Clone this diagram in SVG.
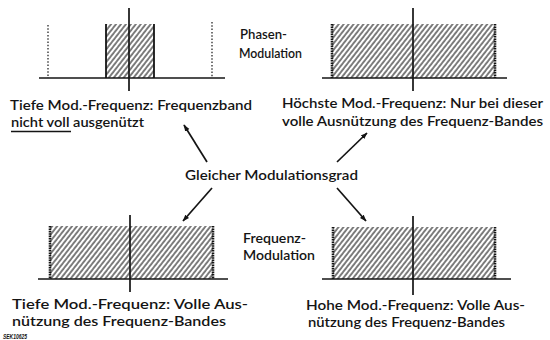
<svg xmlns="http://www.w3.org/2000/svg" width="550" height="340" viewBox="0 0 550 340">
  <style>
    .txt { font-family: Lato, "Liberation Sans", Arial, sans-serif; font-size: 14px; font-weight: 600; fill: #141414; }
    .axis { stroke: #141414; stroke-width: 1.7; fill: none; }
    .edge { stroke: #141414; stroke-width: 2.6; stroke-dasharray: 1.6 0.8; fill: none; }
    .solid-edge { stroke: #141414; stroke-width: 1.8; fill: none; }
    .dots { stroke: #141414; stroke-width: 1.2; stroke-dasharray: 1.5 1.8; fill: none; }
    .band { fill: url(#hatch); }
    .arrow { stroke: #141414; stroke-width: 1.7; fill: none; marker-end: url(#head); }
  </style>
  <defs>
    <pattern id="hatch" patternUnits="userSpaceOnUse" width="3.9" height="10" patternTransform="rotate(38)">
      <line x1="1" y1="-1" x2="1" y2="11" stroke="#141414" stroke-width="1.1"/>
    </pattern>
    <marker id="head" viewBox="0 0 10 10" refX="9" refY="5" markerWidth="7" markerHeight="7" markerUnits="userSpaceOnUse" orient="auto">
      <path d="M0,1.5 L10,5 L0,8.5 Z" fill="#141414"/>
    </marker>
  </defs>
  <rect width="550" height="340" fill="#ffffff"/>

  <!-- Phase modulation, low modulation frequency -->
  <g id="pm-low">
    <rect class="band" x="106" y="24" width="48" height="54"/>
    <line class="solid-edge" x1="106" y1="24" x2="106" y2="78"/>
    <line class="solid-edge" x1="154" y1="24" x2="154" y2="78"/>
    <line class="dots" x1="48" y1="25" x2="48" y2="78"/>
    <line class="dots" x1="212" y1="22" x2="212" y2="78"/>
    <line class="axis" x1="39" y1="78" x2="225" y2="78"/>
    <line class="axis" x1="129" y1="8" x2="129" y2="91"/>
    <text class="txt" x="10" y="110" textLength="242" lengthAdjust="spacingAndGlyphs">Tiefe Mod.-Frequenz: Frequenzband</text>
    <text class="txt" x="11" y="127" textLength="133" lengthAdjust="spacingAndGlyphs">nicht voll ausgenützt</text>
    <line x1="11" y1="131.5" x2="71" y2="131.5" stroke="#141414" stroke-width="1.4"/>
  </g>

  <!-- Label: phase modulation -->
  <g id="label-pm">
    <text class="txt" x="240" y="39" textLength="47" lengthAdjust="spacingAndGlyphs">Phasen-</text>
    <text class="txt" x="239" y="58" textLength="63" lengthAdjust="spacingAndGlyphs">Modulation</text>
  </g>

  <!-- Phase modulation, highest modulation frequency -->
  <g id="pm-high">
    <rect class="band" x="332" y="24" width="163" height="54"/>
    <line class="edge" x1="332" y1="24" x2="332" y2="78"/>
    <line class="edge" x1="495" y1="24" x2="495" y2="78"/>
    <line class="axis" x1="322" y1="78" x2="507" y2="78"/>
    <line class="axis" x1="413" y1="8" x2="413" y2="91"/>
    <text class="txt" x="282" y="108" textLength="261" lengthAdjust="spacingAndGlyphs">Höchste Mod.-Frequenz: Nur bei dieser</text>
    <text class="txt" x="282" y="126" textLength="261" lengthAdjust="spacingAndGlyphs">volle Ausnützung des Frequenz-Bandes</text>
  </g>

  <!-- Centre label -->
  <g id="centre">
    <text class="txt" x="185" y="180" textLength="173" lengthAdjust="spacingAndGlyphs">Gleicher Modulationsgrad</text>
  </g>

  <!-- Label: frequency modulation -->
  <g id="label-fm">
    <text class="txt" x="243" y="243" textLength="63" lengthAdjust="spacingAndGlyphs">Frequenz-</text>
    <text class="txt" x="243" y="260" textLength="72" lengthAdjust="spacingAndGlyphs">Modulation</text>
  </g>

  <!-- Frequency modulation, low modulation frequency -->
  <g id="fm-low">
    <rect class="band" x="50" y="226" width="163" height="53"/>
    <line class="edge" x1="50" y1="226" x2="50" y2="279"/>
    <line class="edge" x1="213" y1="226" x2="213" y2="279"/>
    <line class="axis" x1="38" y1="279" x2="228" y2="279"/>
    <line class="axis" x1="130" y1="215" x2="130" y2="292"/>
    <text class="txt" x="12" y="309" textLength="236" lengthAdjust="spacingAndGlyphs">Tiefe Mod.-Frequenz: Volle Aus-</text>
    <text class="txt" x="12" y="326" textLength="214" lengthAdjust="spacingAndGlyphs">nützung des Frequenz-Bandes</text>
    <text x="3" y="339" font-family="Liberation Sans, Arial, sans-serif" font-size="7" font-style="italic" font-weight="bold" fill="#141414" textLength="24" lengthAdjust="spacingAndGlyphs">SEK10625</text>
  </g>

  <!-- Frequency modulation, high modulation frequency -->
  <g id="fm-high">
    <rect class="band" x="333" y="227" width="162" height="52"/>
    <line class="edge" x1="333" y1="227" x2="333" y2="279"/>
    <line class="edge" x1="495" y1="227" x2="495" y2="279"/>
    <line class="axis" x1="322" y1="279" x2="511" y2="279"/>
    <line class="axis" x1="413" y1="216" x2="413" y2="295"/>
    <text class="txt" x="306" y="310" textLength="219" lengthAdjust="spacingAndGlyphs">Hohe Mod.-Frequenz: Volle Aus-</text>
    <text class="txt" x="308" y="327" textLength="197" lengthAdjust="spacingAndGlyphs">nützung des Frequenz-Bandes</text>
  </g>

  <!-- Connectors from the centre label -->
  <g id="connectors">
    <line class="arrow" x1="207" y1="162" x2="184" y2="125"/>
    <line class="arrow" x1="337" y1="162" x2="367" y2="133"/>
    <line class="arrow" x1="212" y1="188" x2="183" y2="221"/>
    <line class="arrow" x1="337" y1="188" x2="366" y2="221"/>
  </g>
</svg>
